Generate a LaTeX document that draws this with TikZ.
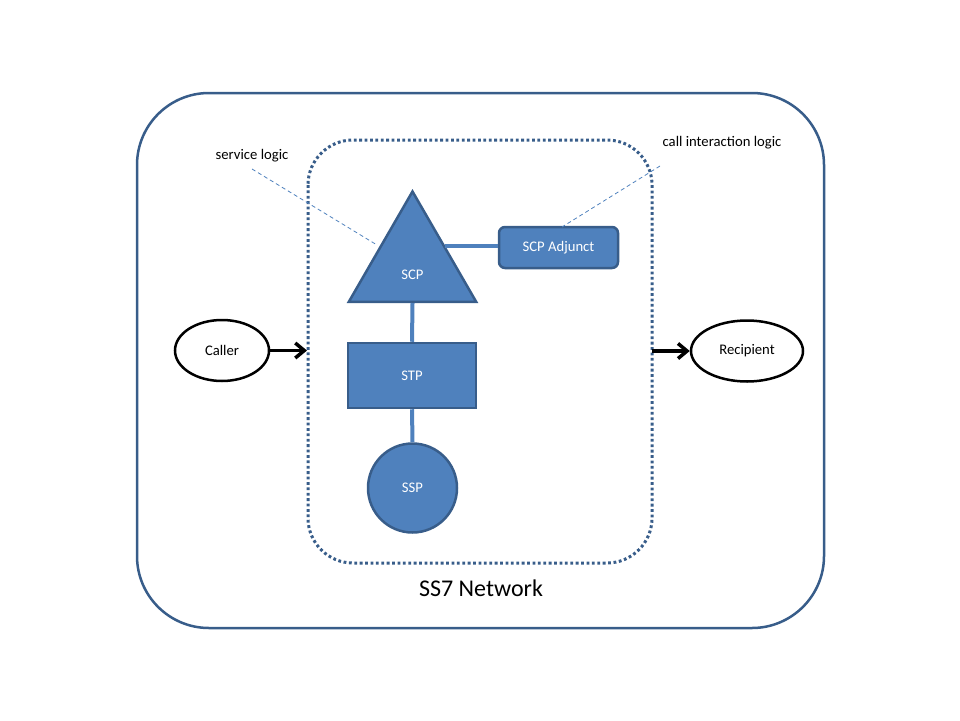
\documentclass[tikz,border=0pt]{standalone}
\usepackage{fontspec}
\setmainfont{Carlito}
\usetikzlibrary{shapes.geometric,arrows.meta}
\definecolor{acc}{HTML}{4F81BD}
\definecolor{accd}{HTML}{385D8A}
\tikzset{
  lbl/.style={font=\fontsize{14.67}{17}\selectfont, inner sep=0},
  wlbl/.style={lbl, text=white},
  shp/.style={draw=accd, fill=acc, line width=2.5pt},
  link/.style={draw=acc, line width=4pt},
  lead/.style={draw=acc, line width=0.8pt, dash pattern=on 4pt off 3pt},
  endpt/.style={ellipse, draw=black, fill=white, line width=2.5pt, inner sep=0},
  flow/.style={draw=black, line width=3.5pt, -{Straight Barb[length=9pt,width=15pt,line width=3.5pt]}},
}
\begin{document}
\begin{tikzpicture}[x=1pt,y=-1pt]
\useasboundingbox (0,0) rectangle (960,720);
% outer network box
\draw[accd, line width=2.5pt, rounded corners=72pt] (137,93) rectangle (824,628);
% dotted inner boundary
\draw[accd, line width=3pt, dash pattern=on 2.8pt off 2.6pt, rounded corners=45pt] (308,140) rectangle (652,563);
\node[font=\fontsize{24}{28}\selectfont, inner sep=0] (title) at (481,588) {SS7 Network};
% shapes
\node[regular polygon, regular polygon sides=3, minimum size=147pt, inner sep=0, shp] (scp) at (412.5,265) {};
\node[wlbl] (scpt) at (412.5,275) {SCP};
\node[shp, rounded corners=6pt, minimum width=119pt, minimum height=41pt, inner sep=0, wlbl] (adj) at (558.5,247.5) {SCP Adjunct};
\node[shp, minimum width=128pt, minimum height=65pt, inner sep=0, wlbl] (stp) at (412,375.5) {STP};
\node[shp, circle, minimum size=89pt, inner sep=0, wlbl] (ssp) at (412.5,488) {SSP};
% links
\draw[link] (scp.side 3) -- (scp.side 3 -| adj.west);
\draw[link] (scp.south) -- (stp.north);
\draw[link] (stp.south) -- (ssp.north);
% endpoints
\node[endpt, minimum width=94pt, minimum height=61pt, lbl] (caller) at (222,350.5) {Caller};
\node[endpt, minimum width=112pt, minimum height=61pt, lbl] (rcp) at (747,351) {Recipient};
\coordinate (inL) at (307,350.5);
\coordinate (outR) at (652,351);
\draw[flow] (caller.east) -- (inL);
\draw[flow] (outR) -- (rcp.west);
% annotations
\node[lbl] (sl) at (252,156) {service logic};
\node[lbl] (cil) at (722,142.5) {call interaction logic};
\coordinate (slA) at (252,169);
\coordinate (slB) at (377,245);
\coordinate (cilA) at (660,166);
\coordinate (cilB) at (562,227);
\draw[lead] (slA) -- (slB);
\draw[lead] (cilA) -- (cilB);
\end{tikzpicture}
\end{document}
